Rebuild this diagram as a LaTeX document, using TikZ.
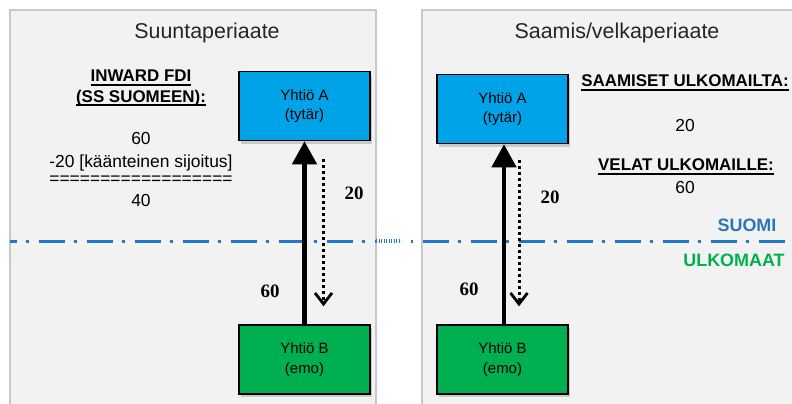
\documentclass[tikz,border=0pt]{standalone}
\usepackage{fontspec}
\setmainfont{Liberation Sans}
\newfontfamily\numfont{Liberation Serif}
\usetikzlibrary{arrows.meta,shadows,calc}

\definecolor{panelfill}{HTML}{F2F2F2}
\definecolor{panelline}{HTML}{C8C8C8}
\definecolor{boxblue}{HTML}{00A2E8}
\definecolor{boxgreen}{HTML}{00B050}
\definecolor{borderblue}{HTML}{2277C9}
\definecolor{suomiblue}{HTML}{2E75B6}
\definecolor{abroadgreen}{HTML}{00B050}

% thick underline for the bold headings
\newsavebox\ulbox
\newcommand\thickul[1]{\sbox\ulbox{#1}\rlap{\vrule width\wd\ulbox height -2.2pt depth 3.9pt}\usebox\ulbox}

\begin{document}
\begin{tikzpicture}[x=1bp,y=-1bp,
  panel/.style={fill=panelfill,draw=panelline,line width=2bp},
  paneltitle/.style={font=\fontsize{21.5}{24}\selectfont,text=black!85},
  company/.style={draw=black,line width=1.5bp,minimum width=131bp,minimum height=69bp,
    inner sep=0pt,align=center,font=\fontsize{15}{19.5}\selectfont,
    drop shadow={shadow xshift=2bp,shadow yshift=-3bp,opacity=0.35}},
  heading/.style={font=\bfseries\fontsize{17}{20}\selectfont,inner sep=0pt},
  calc/.style={font=\fontsize{17.5}{20}\selectfont,inner sep=0pt},
  amount/.style={font=\numfont\bfseries\fontsize{19}{22}\selectfont,inner sep=0pt},
  border/.style={draw=borderblue,line width=3bp},
  flow/.style={line width=4.5bp,-{Triangle[width=24bp,length=23bp]}},
  counterflow/.style={line width=3bp,dash pattern=on 3bp off 3bp,
    -{Straight Barb[width=17bp,length=11bp,line width=2.8bp]}},
]
% canvas
\fill[white] (0,0) rectangle (792,403);
\useasboundingbox (0,0) rectangle (792,403);

% the two panels
\draw[panel] (10,10) rectangle (376,420);
\draw[panel] (422,10) rectangle (810,420);

\node[paneltitle] (t1) at (207,33) {Suuntaperiaate};
\node[paneltitle] (t2) at (617,33) {Saamis/velkaperiaate};

% border between Finland and abroad
\draw[border,dash pattern=on 26bp off 9bp on 3bp off 10bp,dash phase=19bp] (10,241) -- (376,241);
\draw[border,line width=3.5bp,dash pattern=on 1.2bp off 1.3bp] (376,241) -- (401,241);
\draw[border] (411,241) -- (413,241);
\draw[border,dash pattern=on 26bp off 9bp on 3bp off 10bp,dash phase=47bp] (422,241) -- (792,241);

\node[font=\bfseries\fontsize{18}{20}\selectfont,text=suomiblue,inner sep=0pt] (fi) at (747,225) {SUOMI};
\node[font=\bfseries\fontsize{18}{20}\selectfont,text=abroadgreen,inner sep=0pt] (ab) at (734,260) {ULKOMAAT};

% left panel: directional principle
\node[heading] (h1) at (141,78) {\thickul{INWARD FDI}};
\node[heading] (h2) at (141,98) {\thickul{(SS SUOMEEN):}};
\node[calc] (c1) at (141,138) {60};
\node[calc] (c2) at (141,163) {-20 [käänteinen sijoitus]};
\node[calc] (c3) at (141,180) {==================};
\node[calc] (c4) at (141,200) {40};

\node[company,fill=boxblue] (A1) at (304.5,106) {Yhtiö A\\(tytär)};
\node[company,fill=boxgreen] (B1) at (304.5,359.5) {Yhtiö B\\(emo)};

\draw[flow] (B1.north) -- (A1.south);
\coordinate (d1s) at ($(A1.south)+(19,18)$);
\coordinate (d1e) at ($(B1.north)+(19,-18)$);
\draw[counterflow] (d1s) -- (d1e);

\node[amount] (v1) at (354,193) {20};
\node[amount] (w1) at (270,291) {60};

% right panel: asset/liability principle
\node[heading] (h3) at (685,83) {\thickul{SAAMISET ULKOMAILTA:}};
\node[calc] (c5) at (685,125) {20};
\node[heading] (h4) at (686,167) {\thickul{VELAT ULKOMAILLE:}};
\node[calc] (c6) at (685,187) {60};

\node[company,fill=boxblue] (A2) at (502.5,109) {Yhtiö A\\(tytär)};
\node[company,fill=boxgreen] (B2) at (502.5,359.5) {Yhtiö B\\(emo)};

\draw[flow] ($(B2.north)+(1.5,0)$) -- ($(A2.south)+(1.5,0)$);
\coordinate (d2s) at ($(A2.south)+(16.5,16)$);
\coordinate (d2e) at ($(B2.north)+(16.5,-18)$);
\draw[counterflow] (d2s) -- (d2e);

\node[amount] (v2) at (550,197) {20};
\node[amount] (w2) at (469,289) {60};
\end{tikzpicture}
\end{document}
